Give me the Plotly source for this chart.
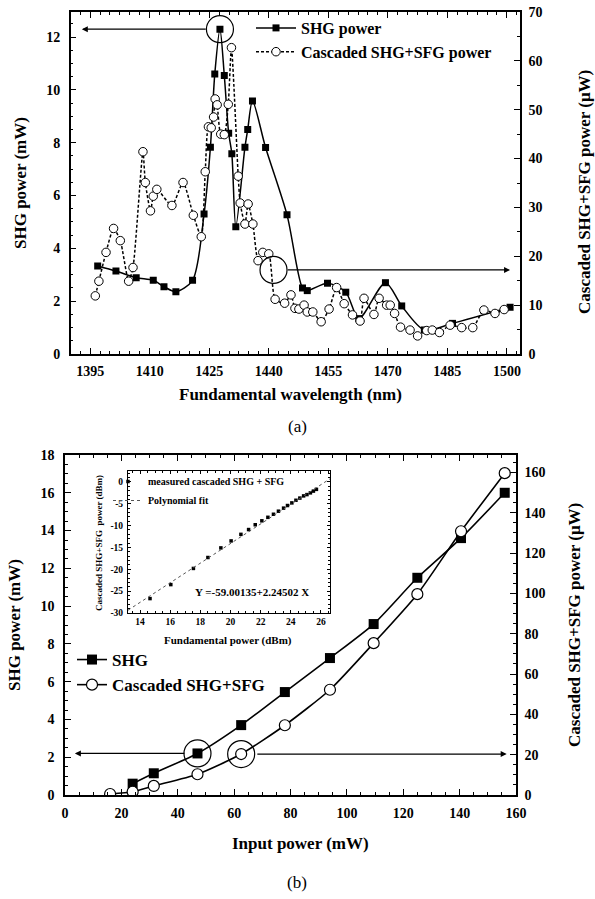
import plotly.graph_objects as go

W, H = 595, 899
FONT = "Liberation Serif"

# ---------------- (a) data ----------------
a_wl_shg = [1396.9, 1401.5, 1406.6, 1410.9, 1413.6, 1416.6, 1420.8, 1423.7, 1425.3, 1426.4,
            1427.7, 1428.8, 1429.9, 1430.7, 1431.7, 1434.0, 1434.7, 1435.9, 1439.2, 1444.6,
            1448.5, 1449.7, 1454.8, 1459.4, 1462.7, 1469.4, 1473.5, 1479.2, 1486.3, 1500.8]
a_shg = [3.33, 3.14, 2.89, 2.79, 2.55, 2.36, 2.79, 5.30, 7.83, 10.6,
         12.3, 10.55, 8.36, 7.58, 4.82, 7.83, 8.5, 9.58, 7.82, 5.27,
         2.50, 2.40, 2.68, 2.34, 1.34, 2.70, 1.82, 0.91, 1.16, 1.77]

a_wl_cas = [1396.3, 1397.2, 1399.0, 1400.9, 1402.6, 1404.7, 1405.8, 1408.3, 1408.9, 1410.2,
            1410.9, 1411.8, 1415.6, 1418.4, 1421.0, 1423.0, 1424.0, 1424.8, 1425.5, 1426.1,
            1426.5, 1427.0, 1427.9, 1428.8, 1429.8, 1430.6, 1432.3, 1432.8, 1434.0, 1434.8,
            1436.0, 1437.3, 1438.5, 1440.0, 1441.6, 1444.0, 1445.6, 1446.6, 1447.6, 1448.9,
            1449.7, 1451.1, 1453.2, 1455.2, 1457.1, 1459.0, 1461.1, 1463.0, 1464.0, 1466.5,
            1467.8, 1469.7, 1470.6, 1471.7, 1473.2, 1475.6, 1477.5, 1479.8, 1481.2, 1483.0,
            1485.7, 1488.6, 1491.4, 1494.2, 1497.0, 1499.3]
a_cas = [11.9, 14.9, 20.8, 25.7, 23.2, 14.9, 17.7, 41.4, 35.1, 29.3,
         32.3, 33.7, 30.4, 35.1, 28.4, 24.0, 37.3, 46.5, 46.3, 48.5,
         52.2, 51.0, 45.0, 44.9, 51.1, 62.7, 36.4, 30.9, 26.6, 30.7,
         26.6, 19.1, 20.8, 20.5, 11.2, 10.4, 12.1, 9.35, 9.2, 10.0,
         8.6, 8.6, 6.6, 9.2, 13.6, 10.3, 8.0, 6.75, 11.4, 8.1,
         11.4, 10.0, 10.0, 8.3, 5.5, 4.9, 3.7, 4.8, 4.9, 4.4,
         5.9, 5.4, 5.4, 9.0, 8.3, 9.1]

a_xticks = [1395, 1410, 1425, 1440, 1455, 1470, 1485, 1500]
a_yticks = [0, 2, 4, 6, 8, 10, 12]
a_y2ticks = [0, 10, 20, 30, 40, 50, 60, 70]
a_mark_cas = (1441.2, 17.2)          # highlighted level on the cascaded curve
a_arrow_left = (1424.5, 1392.9)      # tail, head (nm)
a_arrow_right = (1444.4, 1500.8)

# ---------------- (b) data ----------------
b_in_shg = [24.0, 31.5, 47.0, 62.5, 78.0, 94.0, 109.5, 125.0, 140.5, 156.0]
b_shg = [0.6, 1.15, 2.2, 3.7, 5.45, 7.25, 9.05, 11.5, 13.6, 16.0]
b_in_cas = [16.0, 24.0, 31.5, 47.0, 62.5, 78.0, 94.0, 109.5, 125.0, 140.5, 156.0]
b_cas = [0.5, 1.6, 4.5, 10.3, 20.3, 34.6, 52.2, 75.3, 99.6, 130.8, 159.6]
b_xticks = [0, 20, 40, 60, 80, 100, 120, 140, 160]
b_yticks = [0, 2, 4, 6, 8, 10, 12, 14, 16, 18]
b_y2ticks = [0, 20, 40, 60, 80, 100, 120, 140, 160]
b_arrow_left = (42.9, 3.5)
b_arrow_right = (67.7, 156.7)

# ---------------- inset data ----------------
ins_x = [14.66, 16.04, 17.54, 18.5, 19.36, 20.04, 20.69, 21.2, 21.64, 22.08,
         22.48, 22.85, 23.18, 23.52, 23.78, 24.07, 24.34, 24.6, 24.85, 25.07,
         25.3, 25.5, 25.7]
ins_y = [-26.7, -23.5, -19.8, -17.3, -15.1, -13.5, -12.0, -10.9, -9.8, -8.9,
         -8.1, -7.4, -6.7, -6.0, -5.4, -4.8, -4.2, -3.7, -3.2, -2.9,
         -2.5, -2.1, -1.7]
ins_xticks = [14, 16, 18, 20, 22, 24, 26]
ins_yticks = [0, -5, -10, -15, -20, -25, -30]
fit_a, fit_b = -59.00135, 2.24502
ins_range_x = [13.2, 26.6]


def px_x(p):
    return p / W


def px_y(p):
    return 1 - p / H


def bold(vals):
    return ["<b>%s</b>" % v for v in vals]


fig = go.Figure()

# (a) traces
fig.add_trace(go.Scatter(
    x=a_wl_shg, y=a_shg, name="SHG power", mode="lines+markers",
    line=dict(color="black", width=1.5, shape="spline", smoothing=0.8),
    marker=dict(symbol="square", size=7, color="black"),
    xaxis="x", yaxis="y", legend="legend"))
fig.add_trace(go.Scatter(
    x=a_wl_cas, y=a_cas, name="Cascaded SHG+SFG power", mode="lines+markers",
    line=dict(color="black", width=1.5, dash="3px,2px", shape="spline", smoothing=0.6),
    marker=dict(symbol="circle", size=8.5, color="white", line=dict(color="black", width=1)),
    xaxis="x", yaxis="y2", legend="legend"))
ipk = a_shg.index(max(a_shg))
fig.add_trace(go.Scatter(
    x=[a_wl_shg[ipk]], y=[a_shg[ipk]], mode="markers", showlegend=False,
    marker=dict(symbol="circle-open", size=27, color="black", line=dict(width=1.2)),
    xaxis="x", yaxis="y"))
fig.add_trace(go.Scatter(
    x=[a_mark_cas[0]], y=[a_mark_cas[1]], mode="markers", showlegend=False,
    marker=dict(symbol="circle-open", size=27, color="black", line=dict(width=1.2)),
    xaxis="x", yaxis="y2"))

# (b) traces
fig.add_trace(go.Scatter(
    x=b_in_shg, y=b_shg, name="SHG", mode="lines+markers",
    line=dict(color="black", width=1.6, shape="spline", smoothing=0.6),
    marker=dict(symbol="square", size=10, color="black"),
    xaxis="x3", yaxis="y3", legend="legend2"))
fig.add_trace(go.Scatter(
    x=b_in_cas, y=b_cas, name="Cascaded SHG+SFG", mode="lines+markers",
    line=dict(color="black", width=1.6, shape="spline", smoothing=0.6),
    marker=dict(symbol="circle", size=11, color="white", line=dict(color="black", width=1.2)),
    xaxis="x3", yaxis="y4", legend="legend2"))
fig.add_trace(go.Scatter(
    x=[b_in_shg[2]], y=[b_shg[2]], mode="markers", showlegend=False,
    marker=dict(symbol="circle-open", size=27, color="black", line=dict(width=1.2)),
    xaxis="x3", yaxis="y3"))
fig.add_trace(go.Scatter(
    x=[b_in_cas[4]], y=[b_cas[4]], mode="markers", showlegend=False,
    marker=dict(symbol="circle-open", size=27, color="black", line=dict(width=1.2)),
    xaxis="x3", yaxis="y4"))

# inset traces
fig.add_trace(go.Scatter(
    x=ins_x, y=ins_y, name="measured cascaded SHG + SFG", mode="markers",
    marker=dict(symbol="square", size=3.5, color="black"),
    xaxis="x5", yaxis="y5", legend="legend3"))
fig.add_trace(go.Scatter(
    x=ins_range_x, y=[fit_a + fit_b * v for v in ins_range_x], name="Polynomial fit",
    mode="lines", line=dict(color="#555", width=1, dash="dot"),
    xaxis="x5", yaxis="y5", legend="legend3"))

tickf = dict(family=FONT, size=14, color="black")
common = dict(showgrid=False, zeroline=False, showline=True, linecolor="black", linewidth=1.5,
              ticks="inside", tickcolor="black", tickwidth=1.2, ticklen=6, tickfont=tickf,
              automargin=False, ticklabeloverflow="allow")
mnr = lambda d: dict(ticks="inside", dtick=d, ticklen=3, tickcolor="black")

a_dom_x = [px_x(70.7), px_x(520)]
a_dom_y = [px_y(354), px_y(12)]
b_dom_x = [px_x(65), px_x(516)]
b_dom_y = [px_y(795), px_y(455)]
i_dom_x = [px_x(128), px_x(330)]
i_dom_y = [px_y(613), px_y(471)]

insf = dict(family=FONT, size=9.5, color="black")
ins_common = dict(showgrid=False, zeroline=False, showline=True, linecolor="black", linewidth=1,
                  ticks="inside", ticklen=3, tickcolor="black", mirror="ticks",
                  tickfont=insf, automargin=False)

layout = dict(
    width=W, height=H, margin=dict(l=0, r=0, t=0, b=0, autoexpand=False),
    paper_bgcolor="white", plot_bgcolor="white",
    font=dict(family=FONT, color="black"),
    xaxis=dict(domain=a_dom_x, anchor="y", range=[1390.1, 1503.3], tickvals=a_xticks,
               ticktext=bold(a_xticks), mirror="ticks",
               minor=dict(ticks="inside", dtick=2.5, tick0=1395, ticklen=3, tickcolor="black"),
               ticklabelstandoff=3, **common),
    yaxis=dict(domain=a_dom_y, anchor="x", range=[0, 12.95], tickvals=a_yticks,
               ticktext=bold(a_yticks), minor=mnr(0.5), ticklabelstandoff=6, **common),
    yaxis2=dict(overlaying="y", side="right", anchor="x", range=[0, 70], tickvals=a_y2ticks,
                ticktext=bold(a_y2ticks), minor=mnr(5), ticklabelstandoff=4, **common),
    xaxis3=dict(domain=b_dom_x, anchor="y3", range=[0, 160], tickvals=b_xticks,
                ticktext=bold(b_xticks), mirror="ticks", minor=mnr(5),
                ticklabelstandoff=4, **common),
    yaxis3=dict(domain=b_dom_y, anchor="x3", range=[0, 18], tickvals=b_yticks,
                ticktext=bold(b_yticks), minor=mnr(0.5), ticklabelstandoff=6, **common),
    yaxis4=dict(overlaying="y3", side="right", anchor="x3", range=[0, 168.6],
                tickvals=b_y2ticks, ticktext=bold(b_y2ticks), minor=mnr(5),
                ticklabelstandoff=4, **common),
    xaxis5=dict(domain=i_dom_x, anchor="y5", range=ins_range_x, tickvals=ins_xticks,
                ticktext=bold(ins_xticks),
                minor=dict(ticks="inside", dtick=0.5, ticklen=2, tickcolor="black"),
                ticklabelstandoff=0, **ins_common),
    yaxis5=dict(domain=i_dom_y, anchor="x5", range=[-30, 2.5], tickvals=ins_yticks,
                ticktext=bold(ins_yticks),
                minor=dict(ticks="inside", dtick=1, ticklen=2, tickcolor="black"),
                ticklabelstandoff=2, **ins_common),
    legend=dict(x=px_x(251), y=px_y(11), xanchor="left", yanchor="top", itemwidth=40,
                bgcolor="rgba(0,0,0,0)", tracegroupgap=0,
                font=dict(family=FONT, size=16, color="black", weight="bold")),
    legend2=dict(x=px_x(72), y=px_y(642), xanchor="left", yanchor="top",
                 bgcolor="rgba(0,0,0,0)", tracegroupgap=0,
                 font=dict(family=FONT, size=17, color="black", weight="bold")),
    legend3=dict(x=px_x(108), y=px_y(467), xanchor="left", yanchor="top",
                 bgcolor="rgba(0,0,0,0)", tracegroupgap=0,
                 font=dict(family=FONT, size=10, color="black", weight="bold")),
    showlegend=True,
)
fig.update_layout(**layout)

ttl = dict(family=FONT, size=17, color="black", weight="bold")


def txt(text, x, y, font, angle=0):
    return dict(text=text, x=px_x(x), y=px_y(y), xref="paper", yref="paper",
                xanchor="center", yanchor="middle", showarrow=False, font=font,
                textangle=angle)


ann = [
    txt("Fundamental wavelength (nm)", 290, 394, ttl),
    txt("SHG power (mW)", 21, 183, ttl, -90),
    txt("Cascaded SHG+SFG power (μW)", 584, 192, ttl, -90),
    txt("(a)", 297, 426, dict(family=FONT, size=17, color="black")),
    txt("Input power (mW)", 300, 843, ttl),
    txt("SHG power (mW)", 14, 625, ttl, -90),
    txt("Cascaded SHG+SFG power (μW)", 574, 625, ttl, -90),
    txt("(b)", 297, 882, dict(family=FONT, size=17, color="black")),
    txt("Fundamental power (dBm)", 228, 640, dict(family=FONT, size=11, color="black", weight="bold")),
    txt("Cascaded SHG+SFG  power (dBm)", 99, 543, dict(family=FONT, size=9, color="black", weight="bold"), -90),
    txt("Y =-59.00135+2.24502 X", 252, 592, dict(family=FONT, size=11, color="black", weight="bold")),
]


def arrow(tail, head, y, xr, yr):
    return dict(x=head, y=y, ax=tail, ay=y, xref=xr, yref=yr, axref=xr, ayref=yr,
                showarrow=True, arrowhead=2, arrowsize=1, arrowwidth=1.2,
                arrowcolor="black", text="")


ann += [
    arrow(a_arrow_left[0], a_arrow_left[1], a_shg[ipk], "x", "y"),
    arrow(a_arrow_right[0], a_arrow_right[1], a_mark_cas[1], "x", "y2"),
    arrow(b_arrow_left[0], b_arrow_left[1], b_shg[2], "x3", "y3"),
    arrow(b_arrow_right[0], b_arrow_right[1], b_cas[4], "x3", "y4"),
]
fig.update_layout(annotations=ann)

fig.write_html("out.html", config={"displayModeBar": False},
               post_script="document.body.style.margin='0';document.body.style.overflow='hidden';")
